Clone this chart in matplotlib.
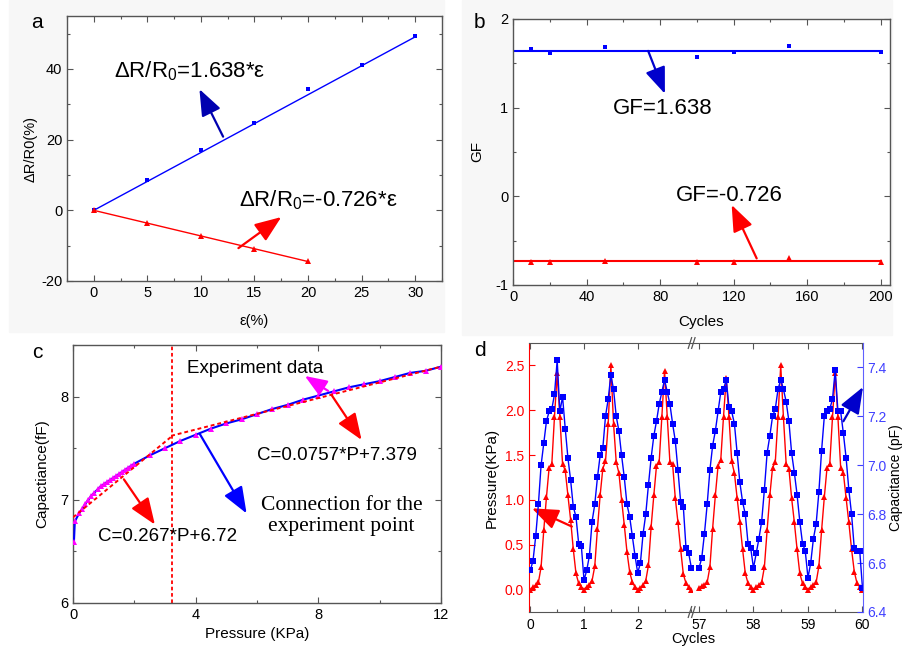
import numpy as np
import matplotlib
matplotlib.use("Agg")
import matplotlib.pyplot as plt
from matplotlib.patches import Rectangle
from matplotlib.ticker import MultipleLocator


# --------------------------------------------------
# Data
# --------------------------------------------------

# (a) resistance change vs strain
strain_pos = [0, 5, 10, 15, 20, 25, 30]
dr_pos = [0.0, 8.6, 17.0, 24.8, 34.2, 41.1, 49.2]
strain_neg = [0, 5, 10, 15, 20]
dr_neg = [0.0, -3.6, -7.4, -11.0, -14.3]
fit_pos_x = [0, 30]
fit_pos_y = [0.0, 49.1]
fit_neg_x = [0, 20]
fit_neg_y = [0.0, -14.5]

# (b) gauge factor vs cycles
cycles_b = [10, 20, 50, 100, 120, 150, 200]
gf_pos = [1.66, 1.62, 1.68, 1.57, 1.63, 1.69, 1.63]
gf_neg = [-0.74, -0.74, -0.73, -0.74, -0.74, -0.70, -0.735]
gf_fit_x = [0, 200]
gf_pos_fit = [1.638, 1.638]
gf_neg_fit = [-0.726, -0.726]

# (c) capacitance vs pressure
pressure_c = [0.03, 0.06, 0.2, 0.3, 0.4, 0.5, 0.6, 0.7, 0.8, 0.9, 1.0,
              1.1, 1.2, 1.3, 1.4, 1.5, 1.6, 1.7, 1.8, 1.9, 2.0, 2.5,
              3.0, 3.5, 4.0, 4.5, 5.0, 5.5, 6.0, 6.5, 7.0, 7.5, 8.0,
              8.5, 9.0, 9.5, 10.0, 10.5, 11.0, 11.5, 12.0]
cap_c = [6.59, 6.79, 6.87, 6.91, 6.96, 7.00, 7.04, 7.07, 7.10, 7.13, 7.15,
         7.17, 7.19, 7.21, 7.23, 7.25, 7.27, 7.29, 7.31, 7.33, 7.35, 7.43,
         7.50, 7.57, 7.63, 7.69, 7.74, 7.78, 7.83, 7.88, 7.92, 7.97, 8.01,
         8.05, 8.09, 8.12, 8.15, 8.19, 8.23, 8.25, 8.29]
fit1_x = [0.0, 3.2]
fit1_y = [6.83, 7.61]
fit2_x = [3.2, 12.0]
fit2_y = [7.62, 8.29]
split_pressure = 3.23

# (d) pressure / capacitance over cycles (broken axis: 0-3 and 57-60)
cycle_left = np.round(np.arange(0, 3.001, 0.05), 2)
cycle_right = np.round(np.arange(57, 60.001, 0.05), 2)

pressure_left = [
    0.00, 0.03, 0.05, 0.08, 0.25, 0.66, 1.03, 1.36, 1.40, 1.93,
    2.41, 1.93, 1.40, 1.33, 1.05, 0.78, 0.45, 0.18, 0.07, 0.03,
    0.00, 0.03, 0.05, 0.10, 0.26, 0.68, 1.05, 1.35, 1.43, 1.85,
    2.50, 1.85, 1.42, 1.30, 1.00, 0.72, 0.42, 0.20, 0.08, 0.03,
    0.00, 0.02, 0.05, 0.10, 0.27, 0.70, 1.05, 1.38, 1.42, 1.93,
    2.44, 1.93, 1.42, 1.40, 1.02, 0.75, 0.45, 0.17, 0.07, 0.03,
    0.00]
pressure_right = [
    0.02, 0.04, 0.05, 0.08, 0.25, 0.68, 1.05, 1.38, 1.45, 1.93,
    2.36, 1.93, 1.43, 1.30, 1.02, 0.75, 0.45, 0.18, 0.07, 0.03,
    0.00, 0.03, 0.05, 0.08, 0.25, 0.66, 1.05, 1.36, 1.42, 1.92,
    2.50, 1.92, 1.40, 1.35, 1.02, 0.75, 0.45, 0.18, 0.07, 0.03,
    0.00, 0.03, 0.05, 0.08, 0.26, 0.66, 1.03, 1.36, 1.40, 1.92,
    2.41, 1.92, 1.36, 1.30, 1.02, 0.75, 0.45, 0.20, 0.07, 0.03,
    0.00]
cap_left = [
    6.57, 6.61, 6.71, 6.84, 7.00, 7.09, 7.18, 7.22, 7.23, 7.29,
    7.43, 7.22, 7.28, 7.15, 7.03, 6.94, 6.83, 6.79, 6.68, 6.67,
    6.53, 6.57, 6.63, 6.77, 6.84, 6.95, 7.04, 7.07, 7.20, 7.27,
    7.37, 7.31, 7.20, 7.14, 7.04, 6.95, 6.84, 6.79, 6.71, 6.63,
    6.56, 6.60, 6.72, 6.80, 6.92, 7.03, 7.12, 7.18, 7.25, 7.30,
    7.35, 7.30, 7.25, 7.17, 7.10, 6.98, 6.85, 6.83, 6.66, 6.64,
    6.58]
cap_right = [
    6.58, 6.62, 6.72, 6.84, 6.98, 7.08, 7.14, 7.22, 7.30, 7.31,
    7.35, 7.24, 7.22, 7.17, 7.05, 6.93, 6.85, 6.80, 6.68, 6.66,
    6.58, 6.64, 6.70, 6.77, 6.90, 7.05, 7.12, 7.20, 7.23, 7.31,
    7.35, 7.31, 7.26, 7.18, 7.05, 6.97, 6.88, 6.77, 6.68, 6.65,
    6.54, 6.60, 6.70, 6.76, 6.89, 7.06, 7.20, 7.22, 7.23, 7.27,
    7.39, 7.22, 7.22, 7.13, 7.03, 6.90, 6.80, 6.66, 6.65, 6.65,
    6.50]


# --------------------------------------------------
# Style
# --------------------------------------------------

plt.rcParams['font.family'] = ['Liberation Sans', 'DejaVu Sans']
plt.rcParams['mathtext.fontset'] = 'custom'
plt.rcParams['mathtext.rm'] = 'Liberation Sans'
plt.rcParams['mathtext.it'] = 'Liberation Sans:italic'
plt.rcParams['axes.unicode_minus'] = False

W, H = 906, 646
fig = plt.figure(figsize=(W / 100, H / 100), dpi=100)


def px_axes(x0, y0, x1, y1):
    # axes from pixel box (top-left origin)
    return fig.add_axes([x0 / W, 1 - y1 / H, (x1 - x0) / W, (y1 - y0) / H])


def style(ax, xmaj, xmin, ymaj, ymin):
    ax.xaxis.set_major_locator(MultipleLocator(xmaj))
    ax.xaxis.set_minor_locator(MultipleLocator(xmin))
    ax.yaxis.set_major_locator(MultipleLocator(ymaj))
    ax.yaxis.set_minor_locator(MultipleLocator(ymin))
    ax.tick_params(which='both', direction='in', top=True, right=True,
                   labelsize=10.5, color='#555555', width=0.8)
    ax.tick_params(which='major', length=4)
    ax.tick_params(which='minor', length=2.5)
    for s in ax.spines.values():
        s.set_color('#555555')
        s.set_linewidth(1.0)


def arrow(ax, tail, head, color, scale=18, lw=1.6, clip=True):
    ax.annotate("", xy=head, xytext=tail,
                arrowprops=dict(arrowstyle='-|>,head_length=0.9,head_width=0.35',
                                color=color, lw=lw, mutation_scale=scale,
                                shrinkA=0, shrinkB=0),
                annotation_clip=clip)


# light grey panels behind a and b
for x0, x1, y1 in [(9, 444, 332), (462, 892, 335)]:
    fig.patches.append(Rectangle((x0 / W, 1 - y1 / H), (x1 - x0) / W, y1 / H,
                                 transform=fig.transFigure, color='#f7f7f7',
                                 zorder=-5))

# --------------------------------------------------
# (a)
# --------------------------------------------------

ax = px_axes(67, 16, 442, 281)
ax.plot(fit_pos_x, fit_pos_y, color='#0000ff', lw=1)
ax.plot(strain_pos, dr_pos, 's', color='#0000ff', ms=3.5, mew=0)
ax.plot(fit_neg_x, fit_neg_y, color='#ff0000', lw=1)
ax.plot(strain_neg, dr_neg, '^', color='#ff0000', ms=4, mew=0)
ax.set_xlim(-2.5, 32.5)
ax.set_ylim(-20, 55)
style(ax, 5, 2.5, 20, 10)
ax.set_xlabel('ε(%)', fontsize=10.5, labelpad=10)
ax.set_ylabel('ΔR/R0(%)', fontsize=10.5, labelpad=2)
ax.text(1.87, 39.5, 'ΔR/R$_{0}$=1.638*ε', fontsize=16, va='center')
ax.text(13.6, 3.0, 'ΔR/R$_{0}$=-0.726*ε', fontsize=16, va='center')
arrow(ax, (12.07, 20.85), (9.86, 34.3), '#0000b0')
arrow(ax, (13.5, -10.7), (17.5, -1.9), '#ff0000')
fig.text(37 / W, 1 - 22 / H, 'a', fontsize=15, ha='center', va='center')

# --------------------------------------------------
# (b)
# --------------------------------------------------

ax = px_axes(513, 19, 890, 285)
ax.plot(gf_fit_x, gf_pos_fit, color='#0000ff', lw=1.5)
ax.plot(cycles_b, gf_pos, 's', color='#0000ff', ms=3.5, mew=0)
ax.plot(gf_fit_x, gf_neg_fit, color='#ff0000', lw=1.5)
ax.plot(cycles_b, gf_neg, '^', color='#ff0000', ms=4, mew=0)
ax.set_xlim(0, 205)
ax.set_ylim(-1, 2)
style(ax, 40, 20, 1, 0.5)
ax.set_xlabel('Cycles', fontsize=11, labelpad=8)
ax.set_ylabel('GF', fontsize=11, labelpad=8)
ax.text(54.4, 0.99, 'GF=1.638', fontsize=16, va='center')
ax.text(88.6, 0.01, 'GF=-0.726', fontsize=16, va='center')
arrow(ax, (73.5, 1.64), (82.6, 1.157), '#0000cc')
arrow(ax, (132.5, -0.70), (118.9, -0.097), '#ff0000')
fig.text(479 / W, 1 - 22 / H, 'b', fontsize=15, ha='center', va='center')

# --------------------------------------------------
# (c)
# --------------------------------------------------

ax = px_axes(73, 345, 441, 603)
ax.plot(pressure_c, cap_c, '-', color='#0000ff', lw=1.5, zorder=3)
ax.plot(pressure_c, cap_c, '^', color='#ff00ff', ms=5, mew=0, zorder=4)
ax.plot(fit1_x, fit1_y, color='#ff0000', lw=1.4, ls=(0, (2, 1.5)), zorder=5)
ax.plot(fit2_x, fit2_y, color='#ff0000', lw=1.4, ls=(0, (2, 1.5)), zorder=5)
ax.axvline(split_pressure, color='#ff0000', lw=1.3, ls=(0, (2, 1.5)))
ax.set_xlim(0, 12)
ax.set_ylim(6, 8.5)
style(ax, 4, 2, 1, 0.5)
ax.set_xlabel('Pressure (KPa)', fontsize=11, labelpad=4)
ax.set_ylabel('Capactiance(fF)', fontsize=11, labelpad=8)
ax.text(3.73, 8.276, 'Experiment data', fontsize=13.5, va='center')
ax.text(5.99, 7.434, 'C=0.0757*P+7.379', fontsize=13.5, va='center')
ax.text(0.82, 6.64, 'C=0.267*P+6.72', fontsize=13.5, va='center')
ax.text(8.76, 6.847, 'Connection for the\nexperiment point', fontsize=15.5,
        ha='center', va='center', family=['Liberation Serif', 'DejaVu Serif'],
        linespacing=1.15)
arrow(ax, (8.32, 8.055), (7.56, 8.20), '#ff00ff', scale=15)
arrow(ax, (8.43, 8.016), (9.41, 7.58), '#ff0000')
arrow(ax, (1.66, 7.198), (2.67, 6.76), '#ff0000')
arrow(ax, (4.14, 7.635), (5.66, 6.868), '#0000ff')
fig.text(37 / W, 1 - 352 / H, 'c', fontsize=15, ha='center', va='center')

# --------------------------------------------------
# (d) broken x axis
# --------------------------------------------------

red = '#ff0000'
blue = '#0000ff'
p_lim = (-0.25, 2.75)
c_lim = (6.4, 7.5)

axL = px_axes(529, 343, 693, 612)
axR = px_axes(693, 343, 863, 612)
axL2 = axL.twinx()
axR2 = axR.twinx()

axL.plot(cycle_left, pressure_left, '-^', color=red, lw=1, ms=4.5, mew=0)
axR.plot(cycle_right, pressure_right, '-^', color=red, lw=1, ms=4.5, mew=0)
axL2.plot(cycle_left, cap_left, '-s', color=blue, lw=1, ms=3.8, mew=0)
axR2.plot(cycle_right, cap_right, '-s', color=blue, lw=1, ms=3.8, mew=0)

axL.set_xlim(-0.025, 3.03)
axR.set_xlim(56.89, 60.01)
for a in (axL, axR):
    a.set_ylim(*p_lim)
for a in (axL2, axR2):
    a.set_ylim(*c_lim)

for a in (axL, axR, axL2, axR2):
    for s in a.spines.values():
        s.set_visible(False)
    a.xaxis.set_major_locator(MultipleLocator(1))
    a.xaxis.set_minor_locator(MultipleLocator(0.5))
    a.tick_params(which='both', direction='in', labelsize=10,
                  color='#555555', width=0.8)
    a.tick_params(which='major', length=4)
    a.tick_params(which='minor', length=2.5)

for a in (axL, axR):
    a.spines['top'].set_visible(True)
    a.spines['bottom'].set_visible(True)
    a.spines['top'].set_color('#555555')
    a.spines['bottom'].set_color('#555555')
    a.tick_params(axis='x', top=True, pad=4)

axL.spines['left'].set_visible(True)
axL.spines['left'].set_color(red)
axL.yaxis.set_major_locator(MultipleLocator(0.5))
axL.tick_params(axis='y', colors=red, right=False)
axL.yaxis.set_major_formatter(plt.FormatStrFormatter('%.1f'))
axL.set_ylabel('Pressure(KPa)', fontsize=11, labelpad=4)

axR.tick_params(axis='y', left=False, right=False, labelleft=False)
axL2.tick_params(axis='y', left=False, right=False, labelright=False)

axR2.spines['right'].set_visible(True)
axR2.spines['right'].set_color('#6060ff')
axR2.yaxis.set_major_locator(MultipleLocator(0.2))
axR2.yaxis.set_major_formatter(plt.FormatStrFormatter('%.1f'))
axR2.tick_params(axis='y', colors='#4040ff', pad=3)
axR2.set_ylabel('Capacitance (pF)', fontsize=10, labelpad=2)

axL.set_xticks([0, 1, 2])
axR.set_xticks([57, 58, 59, 60])
fig.text(693 / W, 1 - 639 / H, 'Cycles', fontsize=10.5, ha='center', va='center')

# break marks
for yb in (0, 1):
    for dx in (-0.02, 0.0):
        axR.plot([dx - 0.008, dx + 0.012], [yb - 0.02, yb + 0.02],
                 transform=axR.transAxes, color='#555555', lw=0.9,
                 clip_on=False)

arrow(axL, (0.774, 0.703), (0.03, 0.906), red)
arrow(axR2, (59.65, 7.18), (60.01, 7.32), '#0000cc', clip=False)
fig.text(480 / W, 1 - 350 / H, 'd', fontsize=15, ha='center', va='center')

fig.savefig('out.png', dpi=100)
